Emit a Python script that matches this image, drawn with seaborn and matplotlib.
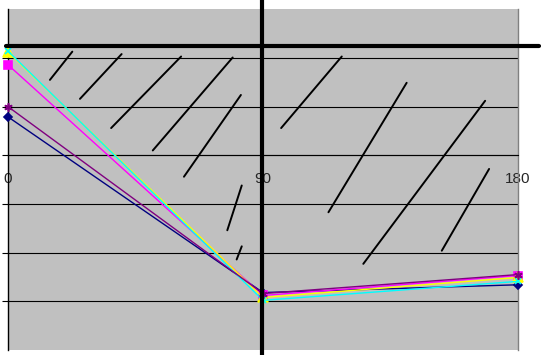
import matplotlib
matplotlib.use("Agg")
import matplotlib.pyplot as plt
import seaborn as sns
import pandas as pd

# ---- data ----
angles = [0, 90, 180]
tick_labels = ["0", "90", "180"]
series_names = ["S1", "S2", "S3", "S4", "S5"]
s1_navy = [0.79, -2.82, -2.66]
s2_magenta = [1.86, -2.88, -2.47]
s3_yellow = [2.12, -2.92, -2.51]
s4_cyan = [2.14, -2.98, -2.59]
s5_purple = [1.00, -2.84, -2.45]

# hand-drawn annotation strokes (data coords): x0, x1, y0, y1
strokes_x = [(14.8, 22.7), (25.4, 40.1), (36.4, 61.1), (51.1, 79.3), (62.1, 82.2),
             (77.4, 82.5), (80.7, 82.5), (96.4, 117.8), (113.1, 140.7), (125.4, 168.4),
             (153.1, 169.8)]
strokes_y = [(1.55, 2.13), (1.16, 2.08), (0.56, 2.03), (0.10, 2.01), (-0.44, 1.24),
             (-1.54, -0.62), (-2.14, -1.87), (0.56, 2.03), (-1.17, 1.49), (-2.23, 1.12),
             (-1.96, -0.28)]
# drawn cross lines
hline_y = 2.25
vline_x = 89.65

values = [s1_navy, s2_magenta, s3_yellow, s4_cyan, s5_purple]
colors = ["#000080", "#FF00FF", "#FFFF00", "#00FFFF", "#800080"]
markers = ["D", "s", "^", "x", (6, 2, 0)]
msizes = [4.5, 5.5, 7, 5, 6]

sns.set_theme(style="white")
plt.rcParams['font.family'] = ['Liberation Sans', 'DejaVu Sans']

fig = plt.figure(figsize=(5.41, 3.55), dpi=100)
W, H = 541, 355
ax = fig.add_axes([8 / W, 1 - 350 / H, 510 / W, (350 - 9.3) / H])
ax.set_facecolor("#C0C0C0")

for name, vals, c, m, ms in zip(series_names, values, colors, markers, msizes):
    df = pd.DataFrame({"angle": angles, "value": vals})
    sns.lineplot(data=df, x="angle", y="value", ax=ax, color=c, marker=m,
                 markersize=ms, markeredgecolor=c, markerfacecolor=c,
                 markeredgewidth=1.2, linewidth=1.0, clip_on=False, zorder=3)

ax.set_xlim(0, 180)
ax.set_ylim(-4, 3)
ax.set_yticks(range(-3, 3))
ax.set_yticklabels([])
ax.grid(axis="y", color="black", linewidth=0.8)
ax.grid(axis="x", visible=False)
ax.set_axisbelow(True)
ax.set_xlabel("")
ax.set_ylabel("")

ax.set_xticks(angles)
ax.set_xticklabels(tick_labels, fontsize=12, color="#222222")
ax.spines["bottom"].set_position(("data", 0))
ax.spines["bottom"].set_color("black")
ax.spines["bottom"].set_linewidth(0.8)
ax.spines["left"].set_color("black")
ax.spines["left"].set_linewidth(1.0)
ax.spines["right"].set_color("#808080")
ax.spines["right"].set_linewidth(1.0)
ax.spines["top"].set_visible(False)
ax.tick_params(axis="x", length=0, pad=12)
ax.tick_params(axis="y", left=True, length=4, width=0.8, color="black", direction="out")

# hand-drawn strokes
for (x0, x1), (y0, y1) in zip(strokes_x, strokes_y):
    ax.plot([x0, x1], [y0, y1], color="black", linewidth=1.4, solid_capstyle="round",
            zorder=4)

# thick drawn cross lines
ax.plot([-0.7, 187.4], [hline_y, hline_y], color="black", linewidth=3.0,
        clip_on=False, zorder=5)
ax.plot([vline_x, vline_x], [3.3, -4.2], color="black", linewidth=3.0,
        clip_on=False, zorder=5)

fig.savefig("out.png", dpi=100, facecolor="white")
